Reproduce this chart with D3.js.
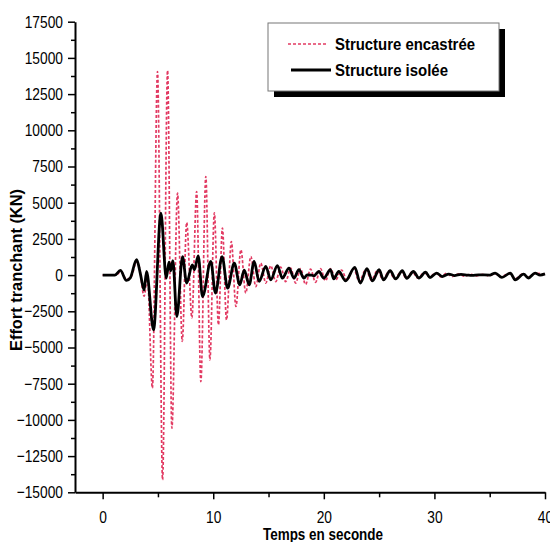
<!DOCTYPE html>
<html><head><meta charset="utf-8">
<script src="https://cdn.jsdelivr.net/npm/d3@7"></script>
<style>
body{margin:0;background:#fff}
svg{display:block}
text{font-family:"Liberation Sans",Arial,sans-serif;fill:#000}
</style>
</head><body>
<svg id="chart" width="550" height="542"></svg>
<script>
// ---- data ----
const xTicks = [0, 10, 20, 30, 40];
const xMinorTicks = [5, 15, 25, 35];
const yTicks = [-15000, -12500, -10000, -7500, -5000, -2500, 0, 2500, 5000, 7500, 10000, 12500, 15000, 17500];
const seriesNames = ["Structure encastrée", "Structure isolée"];

// Structure encastrée (peaks / troughs)
const encastreeT = [0, 1.2, 1.65, 2.15, 2.6, 3.05, 3.3, 3.75, 4.05, 4.5, 4.96, 5.42, 5.87, 6.26, 6.77, 7.2, 7.6, 8.07, 8.5, 8.88, 9.33, 9.7, 10.1, 10.47, 10.83, 11.2, 11.64, 12.05, 12.5, 12.94, 13.4, 13.85, 14.3, 14.75, 15.2, 15.65, 16.1, 16.55, 17.0, 17.45, 17.9, 18.35, 18.8, 19.25, 19.7, 20.15, 20.6, 21.1, 21.6, 22.1, 22.7, 23.2, 23.8, 24.3, 24.85, 25.35, 25.9, 26.4, 27.0, 27.45, 28.0, 28.5, 29.1, 29.55, 30.1, 30.6, 31.1, 31.6, 32.2, 32.7, 33.3, 33.8, 34.4, 34.9, 35.5, 36.0, 36.8, 37.3, 38.0, 38.5, 39.1, 40];
const encastreeV = [0, 0, 250, -300, -100, 900, 600, -1450, -200, -7800, 14060, -14140, 14130, -10570, 5660, -4580, 3630, -2950, 5770, -7350, 6810, -5850, 4300, -3430, 3250, -3100, 2320, -2170, 1750, -1240, 1280, -790, 830, -550, 650, -450, 550, -450, 480, -550, 450, -650, 420, -500, 450, -400, 450, -300, 350, -350, 450, -450, 400, -350, 330, -300, 280, -260, 250, -220, 220, -200, 180, -150, 150, -120, 120, -100, 80, -80, 60, -60, 60, -60, 100, -120, 120, -250, 80, -150, 120, 50];

// Structure isolée
const isoleeT = [0, 1.1, 1.6, 2.15, 2.5, 3.07, 3.4, 3.75, 3.97, 4.6, 5.27, 5.75, 6.0, 6.15, 6.35, 6.71, 7.22, 7.6, 8.1, 8.3, 8.64, 9.03, 9.78, 10.2, 10.8, 11.3, 11.9, 12.4, 12.8, 13.25, 13.7, 14.15, 14.75, 15.2, 15.8, 16.25, 16.85, 17.3, 17.75, 18.2, 18.5, 18.9, 19.1, 19.55, 20.0, 20.6, 20.9, 21.35, 21.97, 22.8, 23.3, 23.9, 24.4, 25.0, 25.4, 26.0, 26.5, 27.1, 27.5, 28.1, 28.6, 29.2, 29.6, 30.2, 30.7, 31.3, 31.8, 32.4, 33.0, 33.4, 34.0, 35.0, 35.5, 36.1, 36.86, 37.3, 38.07, 38.5, 39.1, 39.55, 40];
const isoleeV = [0, 0, 320, -370, -190, 1060, 140, -1030, 250, -3780, 4280, -200, 900, 300, 1000, -2860, 1280, -550, 710, 370, 1330, -1480, 940, -1240, 1280, -900, 830, -670, 350, -670, 940, -440, 600, -330, 660, -210, 480, -200, 370, -210, 20, 0, -50, 250, -210, 370, -260, 250, -400, 530, -550, 440, -400, 370, -330, 300, -260, 300, -230, 250, -200, 200, -170, 140, -100, 70, -30, 50, 0, -20, 20, 0, 140, -160, 140, -330, 70, -200, 140, 0, 80];

// ---- drawing ----
const svg = d3.select("#chart");
const x = d3.scaleLinear().domain([-2.5, 40]).range([75, 545]);
const y = d3.scaleLinear().domain([-15000, 17500]).range([492.3, 21.7]);

// condense a text horizontally (the original uses a narrow typeface)
function condense(sel, factor) {
  sel.each(function () {
    const w = this.getComputedTextLength();
    d3.select(this).attr("textLength", w * factor).attr("lengthAdjust", "spacingAndGlyphs");
  });
}

const yMinor = d3.range(yTicks.length - 1).map(i => (yTicks[i] + yTicks[i + 1]) / 2);

// y axis
const gy = svg.append("g").attr("transform", "translate(75,0)");
gy.call(d3.axisLeft(y).tickValues(yTicks).tickFormat(d3.format("d")).tickSize(7).tickSizeOuter(0).tickPadding(5));
gy.select(".domain").attr("stroke", "#000").attr("stroke-width", 2);
gy.selectAll(".tick line").attr("stroke", "#000").attr("stroke-width", 1.5);
gy.selectAll(".tick text").attr("font-size", 17).style("font-family", '"Liberation Sans",Arial,sans-serif');
condense(gy.selectAll(".tick text"), 0.81);
const gym = svg.append("g").attr("transform", "translate(75,0)");
gym.call(d3.axisLeft(y).tickValues(yMinor).tickSize(4).tickSizeOuter(0).tickFormat(""));
gym.select(".domain").remove();
gym.selectAll(".tick line").attr("stroke", "#000").attr("stroke-width", 1.5);

// x axis
const gx = svg.append("g").attr("transform", "translate(0,492.3)");
gx.call(d3.axisBottom(x).tickValues(xTicks).tickFormat(d3.format("d")).tickSize(7).tickSizeOuter(0).tickPadding(12));
gx.select(".domain").attr("stroke", "#000").attr("stroke-width", 2);
gx.selectAll(".tick line").attr("stroke", "#000").attr("stroke-width", 1.5);
gx.selectAll(".tick text").attr("font-size", 17).style("font-family", '"Liberation Sans",Arial,sans-serif');
condense(gx.selectAll(".tick text"), 0.81);
const gxm = svg.append("g").attr("transform", "translate(0,492.3)");
gxm.call(d3.axisBottom(x).tickValues(xMinorTicks).tickSize(5).tickSizeOuter(0).tickFormat(""));
gxm.select(".domain").remove();
gxm.selectAll(".tick line").attr("stroke", "#000").attr("stroke-width", 1.5);

// axis titles
const xt = svg.append("text").attr("x", 323).attr("y", 540).attr("text-anchor", "middle")
  .attr("font-size", 16).attr("font-weight", "bold").text("Temps en seconde");
xt.attr("textLength", 120).attr("lengthAdjust", "spacingAndGlyphs");
const yt = svg.append("text").attr("transform", "translate(22,270) rotate(-90)").attr("text-anchor", "middle")
  .attr("font-size", 16).attr("font-weight", "bold").text("Effort tranchant (KN)");
yt.attr("textLength", 162).attr("lengthAdjust", "spacingAndGlyphs");

// lines
const line = d3.line().x(d => x(d[0])).y(d => y(d[1])).curve(d3.curveMonotoneX);
const encData = encastreeT.map((t, i) => [t, encastreeV[i]]);
const isoData = isoleeT.map((t, i) => [t, isoleeV[i]]);
const red = "#e23a62";
svg.append("path").datum(encData).attr("d", line).attr("fill", "none")
  .attr("stroke", red).attr("stroke-width", 1.7).attr("stroke-dasharray", "3,2");
svg.append("path").datum(isoData).attr("d", line).attr("fill", "none")
  .attr("stroke", "#000").attr("stroke-width", 2.8).attr("stroke-linejoin", "round");

// legend
const lg = svg.append("g");
lg.append("rect").attr("x", 274).attr("y", 29).attr("width", 231).attr("height", 68).attr("fill", "#000");
lg.append("rect").attr("x", 268).attr("y", 23).attr("width", 231).attr("height", 68).attr("fill", "#fff")
  .attr("stroke", "#777").attr("stroke-width", 1);
lg.append("line").attr("x1", 288).attr("x2", 328).attr("y1", 44).attr("y2", 44)
  .attr("stroke", red).attr("stroke-width", 1.7).attr("stroke-dasharray", "3,2");
lg.append("line").attr("x1", 291).attr("x2", 331).attr("y1", 70).attr("y2", 70)
  .attr("stroke", "#000").attr("stroke-width", 2.8);
lg.append("text").attr("x", 335).attr("y", 50).attr("font-size", 16).attr("font-weight", "bold")
  .attr("textLength", 140).attr("lengthAdjust", "spacingAndGlyphs").text(seriesNames[0]);
lg.append("text").attr("x", 335).attr("y", 75.5).attr("font-size", 16).attr("font-weight", "bold")
  .attr("textLength", 113).attr("lengthAdjust", "spacingAndGlyphs").text(seriesNames[1]);
</script>
</body></html>
